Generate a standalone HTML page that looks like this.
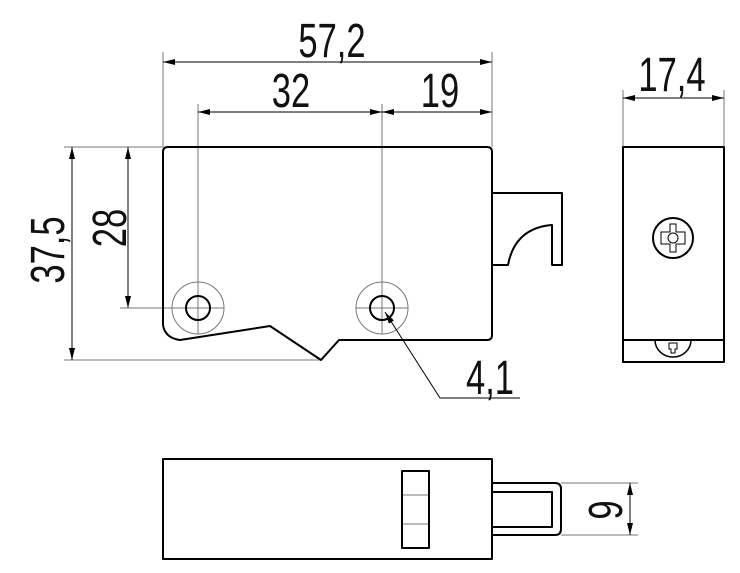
<!DOCTYPE html>
<html><head><style>html,body{margin:0;padding:0;background:#fff}svg{display:block}text{font-family:"Liberation Sans",sans-serif;fill:#111}</style></head>
<body>
<svg width="740" height="573" viewBox="0 0 740 573" xmlns="http://www.w3.org/2000/svg">
<defs>
<marker id="a" viewBox="0 0 12 6" refX="12" refY="3" markerWidth="12" markerHeight="6" orient="auto-start-reverse" markerUnits="userSpaceOnUse"><path d="M0,0L12,3L0,6z" fill="#000"/></marker>
</defs>
<g stroke="#777" stroke-width="1" fill="none">
<line x1="163" y1="52" x2="163" y2="147"/>
<line x1="492" y1="52" x2="492" y2="147"/>
<line x1="198" y1="104" x2="198" y2="334"/>
<line x1="382" y1="104" x2="382" y2="334"/>
<line x1="64" y1="147" x2="163" y2="147"/>
<line x1="64" y1="360" x2="321" y2="360"/>
<line x1="120" y1="308" x2="224" y2="308"/>
<line x1="356" y1="308" x2="408" y2="308"/>
<circle cx="198" cy="308" r="26"/>
<circle cx="382" cy="308" r="26"/>
<line x1="623" y1="90" x2="623" y2="147"/>
<line x1="724" y1="90" x2="724" y2="147"/>
<line x1="561" y1="483" x2="638" y2="483"/>
<line x1="561" y1="535" x2="638" y2="535"/>
<line x1="402" y1="495" x2="429" y2="495"/>
<line x1="402" y1="524" x2="429" y2="524"/>
</g>
<g stroke="#000" stroke-width="1" fill="none">
<line x1="163" y1="62" x2="492" y2="62" marker-start="url(#a)" marker-end="url(#a)"/>
<line x1="198" y1="112" x2="382" y2="112" marker-start="url(#a)" marker-end="url(#a)"/>
<line x1="382" y1="112" x2="492" y2="112" marker-start="url(#a)" marker-end="url(#a)"/>
<line x1="72" y1="147" x2="72" y2="360" marker-start="url(#a)" marker-end="url(#a)"/>
<line x1="128" y1="147" x2="128" y2="308" marker-start="url(#a)" marker-end="url(#a)"/>
<line x1="623" y1="98" x2="724" y2="98" marker-start="url(#a)" marker-end="url(#a)"/>
<line x1="630" y1="483" x2="630" y2="535" marker-start="url(#a)" marker-end="url(#a)"/>
<polyline points="520,398 440,398 385,312" marker-end="url(#a)"/>
</g>
<g stroke="#000" stroke-width="2" fill="none" stroke-linejoin="round">
<path d="M163,152 Q163,147 168,147 L487,147 Q492,147 492,152 L492,335 Q492,340 487,340 L339,340 L321,360 L270,326 L180,340 Q165,338 163,325 Z"/>
<path d="M492,193 L562,193 L562,265 L552,265 L552,225 Q515,228 508,265 L492,265"/>
<circle cx="198" cy="308" r="12"/>
<circle cx="382" cy="308" r="12"/>
<rect x="623" y="147" width="101" height="215"/>
<line x1="623" y1="340" x2="724" y2="340"/>
<circle cx="673" cy="238" r="20"/>
<path d="M655,340 A18,17 0 0 0 691,340" stroke-width="1.5"/>
<rect x="163" y="459" width="329" height="100"/>
<rect x="402" y="471" width="27" height="77"/>
<path d="M492,483 L555,483 Q561,483 561,489 L561,529 Q561,535 555,535 L492,535"/>
<path d="M492,492 L552,492 L552,527 L492,527"/>
</g>
<g stroke="#000" stroke-width="1" fill="none">
<path d="M670,224 h6 v8 h9 v12 h-9 v8 h-6 v-8 h-9 v-12 h9 z"/>
<circle cx="673" cy="238" r="5"/>
<path d="M669,343 h8 v6 h-2 v4 h-4 v-4 h-2 z"/>
</g>
<g font-size="48" text-anchor="middle">
<text x="332" y="57" transform="scale(0.72,1)" transform-origin="332 57">57,2</text>
<text x="291" y="107" transform="scale(0.72,1)" transform-origin="291 107">32</text>
<text x="440" y="107" transform="scale(0.72,1)" transform-origin="440 107">19</text>
<text x="672" y="91" transform="scale(0.72,1)" transform-origin="672 91">17,4</text>
<text x="490" y="394" transform="scale(0.72,1)" transform-origin="490 394">4,1</text>
<text transform="translate(64,250) rotate(-90) scale(0.72,1)">37,5</text>
<text transform="translate(126,228) rotate(-90) scale(0.72,1)">28</text>
<text transform="translate(622,510) rotate(-90) scale(0.72,1)">9</text>
</g>
</svg>
</body></html>
